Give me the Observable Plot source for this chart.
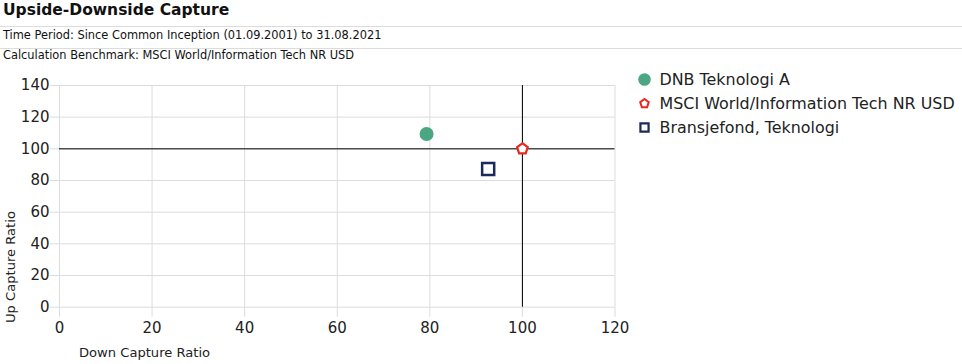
<!DOCTYPE html>
<html>
<head>
<meta charset="utf-8">
<script src="https://cdn.jsdelivr.net/npm/d3@7"></script>
<script src="https://cdn.jsdelivr.net/npm/@observablehq/plot@0.6"></script>
<style>
  html, body { margin: 0; padding: 0; background: #fff; }
  body { width: 962px; height: 364px; position: relative; overflow: hidden; font-family: "DejaVu Sans", Verdana, sans-serif; color: #111; }
  .abs { position: absolute; white-space: nowrap; line-height: 1; }
  .title { left: 3px; top: 3.4px; font-size: 15.5px; font-weight: bold; color: #111; }
  .sub { left: 3px; font-size: 11.4px; color: #111; }
  .rule { position: absolute; left: 0; width: 962px; height: 1px; background: #dcdcdc; }
  .axtitle { font-size: 13.1px; color: #222; }
  #chart { position: absolute; left: 0; top: 70px; width: 630px; height: 294px; }
  #legend { position: absolute; left: 630px; top: 60px; width: 332px; height: 90px; }
</style>
</head>
<body>
<div class="abs title" id="title"></div>
<div class="rule" style="top:26px"></div>
<div class="abs sub" id="sub1" style="top:29.7px"></div>
<div class="rule" style="top:48px"></div>
<div class="abs sub" id="sub2" style="top:50.4px"></div>
<div id="chart"></div>
<div id="legend"></div>
<div class="abs axtitle" id="xtitle" style="left:79px; top:345.5px"></div>
<div class="abs axtitle" id="ytitle" style="left:15px; top:323px; transform-origin: 0 0; transform: rotate(-90deg) translateY(-11px);"></div>
<script>
// ---- data ----
const titleText = "Upside-Downside Capture";
const subtitle1 = "Time Period: Since Common Inception (01.09.2001) to 31.08.2021";
const subtitle2 = "Calculation Benchmark: MSCI World/Information Tech NR USD";
const xLabel = "Down Capture Ratio";
const yLabel = "Up Capture Ratio";
const seriesNames = ["DNB Teknologi A", "MSCI World/Information Tech NR USD", "Bransjefond, Teknologi"];
const downCapture = [79.3, 100.0, 92.6];
const upCapture = [109.4, 100.0, 87.3];
const xTicks = [0, 20, 40, 60, 80, 100, 120];
const yTicks = [0, 20, 40, 60, 80, 100, 120, 140];
const benchmarkX = [100];
const benchmarkY = [100];

// ---- styles ----
const green = "#4aa683", red = "#e8281e", navy = "#1b2a5c";

document.getElementById("title").textContent = titleText;
document.getElementById("sub1").textContent = subtitle1;
document.getElementById("sub2").textContent = subtitle2;
document.getElementById("xtitle").textContent = xLabel;
document.getElementById("ytitle").textContent = yLabel;

const pentagon = {
  draw(context, size) {
    const R = Math.sqrt(size / Math.PI);
    for (let i = 0; i < 5; i++) {
      const a = -Math.PI / 2 + i * 2 * Math.PI / 5;
      const px = R * Math.cos(a), py = R * Math.sin(a);
      if (i === 0) context.moveTo(px, py); else context.lineTo(px, py);
    }
    context.closePath();
  }
};

const rows = seriesNames.map((name, i) => ({name, down: downCapture[i], up: upCapture[i], i}));

const chart = Plot.plot({
  width: 630,
  height: 294,
  marginTop: 15,
  marginBottom: 57.3,
  marginLeft: 59,
  marginRight: 15.5,
  style: {fontFamily: "DejaVu Sans, Verdana, sans-serif", fontSize: "15px", color: "#222", background: "#fff", overflow: "visible"},
  x: {domain: [0, 120]},
  y: {domain: [0, 140]},
  marks: [
    Plot.gridX(xTicks, {stroke: "#dcdcdc", strokeOpacity: 1}),
    Plot.gridY(yTicks, {stroke: "#dcdcdc", strokeOpacity: 1}),
    Plot.axisX(xTicks, {tickSize: 10, tickPadding: 5, stroke: "#dcdcdc", fill: "#222", label: null}),
    Plot.axisY(yTicks, {tickSize: 9, tickPadding: 1, stroke: "#dcdcdc", fill: "#222", label: null}),
    Plot.ruleX(benchmarkX, {stroke: "#000", strokeWidth: 1}),
    Plot.ruleY(benchmarkY, {stroke: "#000", strokeWidth: 1}),
    Plot.dot(rows, {filter: d => d.i === 0, x: "down", y: "up", r: 7, fill: green, stroke: "none"}),
    Plot.dot(rows, {filter: d => d.i === 2, x: "down", y: "up", symbol: "square", r: 6.8, fill: "#fff", stroke: navy, strokeWidth: 2.5}),
    Plot.dot(rows, {filter: d => d.i === 1, x: "down", y: "up", symbol: pentagon, r: 5.6, fill: "#fff", stroke: red, strokeWidth: 2.2})
  ]
});
document.getElementById("chart").appendChild(chart);

const legend = Plot.plot({
  width: 332,
  height: 90,
  margin: 0,
  style: {fontFamily: "DejaVu Sans, Verdana, sans-serif", fontSize: "15.9px", color: "#222", background: "transparent", overflow: "visible"},
  y: {type: "point", domain: seriesNames, range: [18.5, 68], padding: 0, axis: null},
  marks: [
    Plot.dot(rows, {filter: d => d.i === 0, y: "name", frameAnchor: "left", dx: 14, r: 6.3, fill: green, stroke: "none"}),
    Plot.dot(rows, {filter: d => d.i === 1, y: "name", frameAnchor: "left", dx: 14, symbol: pentagon, r: 4.5, fill: "#fff", stroke: red, strokeWidth: 2}),
    Plot.dot(rows, {filter: d => d.i === 2, y: "name", frameAnchor: "left", dx: 14, symbol: "square", r: 4.6, fill: "#fff", stroke: navy, strokeWidth: 2.2}),
    Plot.text(rows, {y: "name", text: "name", frameAnchor: "left", dx: 29, textAnchor: "start", fill: "#222"})
  ]
});
document.getElementById("legend").appendChild(legend);
</script>
</body>
</html>
